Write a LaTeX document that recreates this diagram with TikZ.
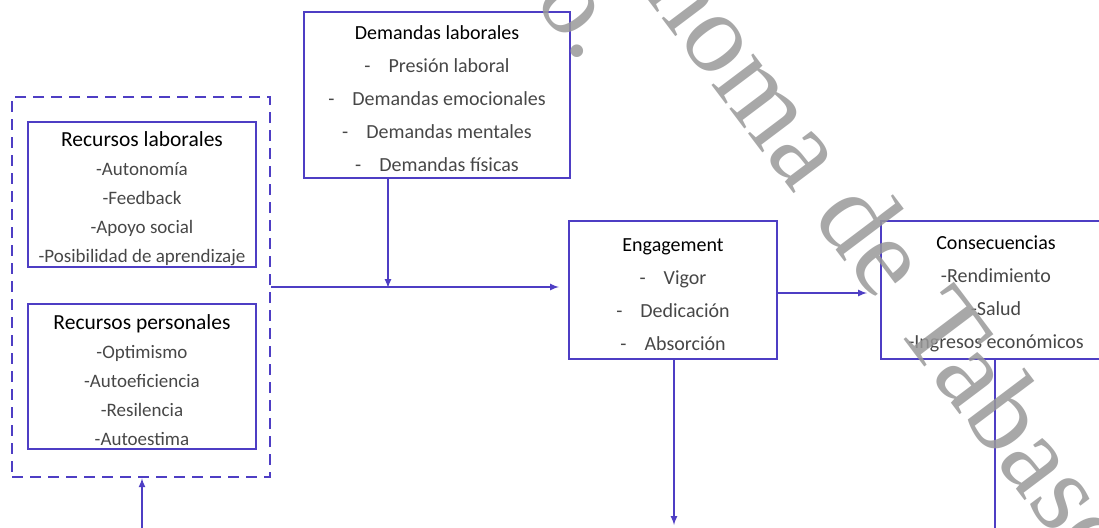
\documentclass[tikz,border=0pt]{standalone}
\usepackage{fontspec}
\setmainfont{Carlito}
\newfontfamily\markfont{Liberation Serif}
\usepackage[svgnames]{xcolor}
\usetikzlibrary{positioning, arrows, calc}

\definecolor{boxblue}{RGB}{78,62,196}
\def\ttl#1{\rule{0pt}{22pt}{\color{black}#1}}
\def\rttl#1{\rule{0pt}{23pt}{\color{black}\fontsize{21.5}{29}\selectfont #1}}
\def\itm#1{{\color{black!72}#1}}
\def\gap{\hspace{0.9em}}

\begin{document}
\begin{tikzpicture}[x=1pt, y=-1pt,
    box/.style={draw=boxblue, line width=2pt, inner sep=0pt, align=center,
        font=\fontsize{20}{33}\selectfont},
    resbox/.style={box, minimum width=228pt, minimum height=145pt,
        font=\fontsize{19}{29}\selectfont},
    groupbox/.style={draw=boxblue, line width=2.5pt, dash pattern=on 11pt off 7pt,
        minimum width=258pt, minimum height=380pt},
    link/.style={draw=boxblue, line width=2pt, -latex},
    plain/.style={draw=boxblue, line width=2pt},
    wmark/.style={text=black!40, text opacity=0.85, inner sep=0pt,
        font=\markfont\fontsize{114}{114}\selectfont}]

    \useasboundingbox (0,0) rectangle (1099,527);
    \clip (0,0) rectangle (1099,527);

    % resources
    \node[resbox] (recLab) at (142,194.5)
        {\rttl{Recursos laborales}\\ \itm{-Autonomía}\\ \itm{-Feedback}\\
         \itm{-Apoyo social}\\ \itm{-Posibilidad de aprendizaje}};
    \node[resbox] (recPer) at (142,376.5)
        {\rttl{Recursos personales}\\ \itm{-Optimismo}\\ \itm{-Autoeficiencia}\\
         \itm{-Resilencia}\\ \itm{-Autoestima}};
    \node[groupbox] (recursos) at (141,287) {};

    % demands
    \node[box, minimum width=266pt, minimum height=166pt] (demLab) at (437,95)
        {\ttl{Demandas laborales}\\ \itm{-\gap Presión laboral}\\
         \itm{-\gap Demandas emocionales}\\ \itm{-\gap Demandas mentales}\\
         \itm{-\gap Demandas físicas}};

    % engagement and consequences
    \node[box, minimum width=208pt, minimum height=138pt] (engage) at (673,290)
        {\ttl{Engagement}\\ \itm{-\gap Vigor}\\ \itm{-\gap Dedicación}\\
         \itm{-\gap Absorción}};
    \node[box, minimum width=230pt, minimum height=138pt] (conseq) at (996,290)
        {\ttl{Consecuencias}\\ \itm{-Rendimiento}\\ \itm{-Salud}\\
         \itm{-Ingresos económicos}};

    % loose ends
    \coordinate (meet) at (388,288);
    \coordinate (engOut) at (674,525);
    \coordinate (conOut) at (995,540);
    \coordinate (resIn) at (142,540);

    % arrows
    \draw[link, shorten >=9pt] (recursos.east) -- (recursos.east -| engage.west);
    \draw[link] (demLab.south -| meet) -- (meet);
    \draw[link, shorten >=13pt] ([yshift=-3pt]engage.east) -- ([yshift=-3pt]engage.east -| conseq.west);
    \draw[link] (engage.south -| engOut) -- (engOut);
    \draw[plain] (conseq.south -| conOut) -- (conOut);
    \draw[link] (resIn) -- (recursos.south -| resIn);

    % watermark
    \node[wmark, anchor=base west, rotate=-53] (markA) at (642,-8) {noma de Tabasco};
    \node[wmark, anchor=base west, rotate=-53, font=\markfont\fontsize{106}{106}\selectfont]
        (markB) at (533,1) {o.};
\end{tikzpicture}
\end{document}
